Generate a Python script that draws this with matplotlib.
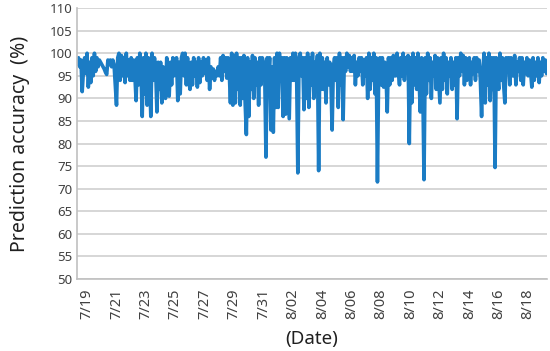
import numpy as np
import matplotlib
matplotlib.use("Agg")
import matplotlib.pyplot as plt

# --- data: prediction accuracy (%), one value every 2 hours ---
# day offsets are relative to 7/19 00:00
START_DAY = -8 / 12
STEP_DAY = 1 / 12

acc_start = [97.5, 99, 97, 98.5, 91.5, 96, 99, 95.5]
acc_0719 = [100, 92.5, 98, 93.5, 99, 95, 100, 96, 99, 97, 98.5, 98]
acc_0720 = [97.5, 97, 96.5, 95.8, 95.3, 98.5, 97.5, 98.5, 97, 98.5, 97.5, 93]
acc_0721 = [88.5, 99, 100, 94, 99.5, 95, 99, 93.5, 100, 95, 98.5, 94]
acc_0722 = [99, 94, 98.5, 95, 89.5, 99, 93, 100, 96, 86, 99, 91]
acc_0723 = [100, 88.5, 99, 95, 86, 100, 94, 99, 96, 87, 98, 92]
acc_0724 = [98, 89, 97, 93, 90, 99, 94, 90.5, 98, 93, 99, 95]
acc_0725 = [96, 99, 89.5, 98, 91, 99, 100, 95, 100, 93, 99, 94]
acc_0726 = [92, 98, 93, 99, 95, 98, 92.5, 99, 93.5, 98, 95, 99]
acc_0727 = [95.5, 98.5, 94, 99, 92, 97, 94.5, 96.5, 94, 96, 95, 97]
acc_0728 = [95, 99, 94, 99.5, 96, 99, 94.5, 99, 96, 89, 100, 88.5]
acc_0729 = [99.5, 89, 100, 92, 99, 88.5, 99, 90, 99.5, 89, 82, 99]
acc_0730 = [86, 98, 92, 99.5, 90, 99, 93, 98, 88.5, 99, 93, 99]
acc_0731 = [98, 95, 77, 99, 94, 99, 83, 97, 82.5, 99, 88, 100]
acc_0801 = [88, 100, 94, 99, 86, 99, 86.5, 99, 92, 85.5, 99, 94]
acc_0802 = [100, 94, 100, 96, 73.5, 99, 100, 95, 99, 87.5, 99, 90]
acc_0803 = [100, 88, 99, 93, 100, 90, 98, 95, 99.5, 74, 100, 92]
acc_0804 = [99, 92, 98, 89, 99, 93, 98, 94, 83, 97, 99, 94]
acc_0805 = [99, 88, 100, 93, 99, 85.3, 99, 96, 100, 97, 99.5, 96]
acc_0806 = [99, 96, 99.5, 93, 98, 95, 99, 96, 99, 93, 98.5, 95]
acc_0807 = [99, 90, 100, 92, 99, 94, 100, 91, 99, 71.5, 96, 99]
acc_0808 = [93, 99, 92.5, 98, 95, 87, 99, 93, 99, 94, 99.5, 95]
acc_0809 = [95, 100, 96, 93, 99, 95, 100, 94, 99, 96, 99.5, 80]
acc_0810 = [99, 89, 100, 93, 99, 92, 100, 94, 87, 99, 93, 72]
acc_0811 = [99, 91, 100, 94, 99, 90, 98, 95, 99.5, 92, 99, 94]
acc_0812 = [89, 99, 92, 100, 94, 99, 91, 98, 95, 99, 92, 98]
acc_0813 = [93, 99, 85.5, 99, 95, 100, 96, 99.5, 93, 99, 94, 98]
acc_0814 = [99, 93, 98, 95.5, 99, 94, 99, 96, 98.5, 94, 86, 96]
acc_0815 = [100, 89, 99, 93, 100, 89.5, 99, 92, 99, 74.7, 99, 95]
acc_0816 = [92, 100, 94, 99, 93, 89, 99, 96, 99, 93, 99, 95]
acc_0817 = [95, 99.5, 93, 98, 96, 99, 94, 99, 93, 98, 95.5, 99]
acc_0818 = [95, 98.5, 96, 92.5, 99, 94, 98, 95, 99, 93.5, 98, 95]
acc_end = [99, 96, 98.5, 95.5]

tick_labels = ["7/19", "7/21", "7/23", "7/25", "7/27", "7/29", "7/31",
               "8/02", "8/04", "8/06", "8/08", "8/10", "8/12", "8/14",
               "8/16", "8/18"]
tick_days = [0, 2, 4, 6, 8, 10, 12, 14, 16, 18, 20, 22, 24, 26, 28, 30]

accuracy = (acc_start + acc_0719 + acc_0720 + acc_0721 + acc_0722 + acc_0723
            + acc_0724 + acc_0725 + acc_0726 + acc_0727 + acc_0728 + acc_0729
            + acc_0730 + acc_0731 + acc_0801 + acc_0802 + acc_0803 + acc_0804
            + acc_0805 + acc_0806 + acc_0807 + acc_0808 + acc_0809 + acc_0810
            + acc_0811 + acc_0812 + acc_0813 + acc_0814 + acc_0815 + acc_0816
            + acc_0817 + acc_0818 + acc_end)
days = START_DAY + STEP_DAY * np.arange(len(accuracy))

# --- plot ---
plt.rcParams['font.family'] = ['Noto Sans', 'DejaVu Sans']

fig = plt.figure(figsize=(5.5, 3.51), dpi=100)
ax = fig.add_axes([0.14, 0.205, 0.855, 0.772])

ax.plot(days, accuracy, color='#1b7cc4', lw=2.6,
        solid_joinstyle='round', solid_capstyle='round')

ax.set_xlim(days[0] - 0.02, days[-1] + 0.05)
ax.set_ylim(50, 110)
ax.set_yticks(np.arange(50, 111, 5))
ax.set_xticks(tick_days)
ax.set_xticklabels(tick_labels, rotation=90)

ax.grid(axis='y', color='#d0d0d0', lw=1.2)
ax.set_axisbelow(True)
for s in ['top', 'right']:
    ax.spines[s].set_visible(False)
for s in ['left', 'bottom']:
    ax.spines[s].set_color('#c0c0c0')
    ax.spines[s].set_linewidth(1.2)
ax.tick_params(length=0, colors='#404040', labelsize=9.5)
ax.tick_params(axis='x', pad=7, labelsize=10.5)

ax.set_ylabel("Prediction accuracy  (%)", fontsize=14, color='#202020', labelpad=14)
ax.set_xlabel("(Date)", fontsize=13.5, color='#202020', labelpad=8)

fig.savefig("out.png", dpi=100)
